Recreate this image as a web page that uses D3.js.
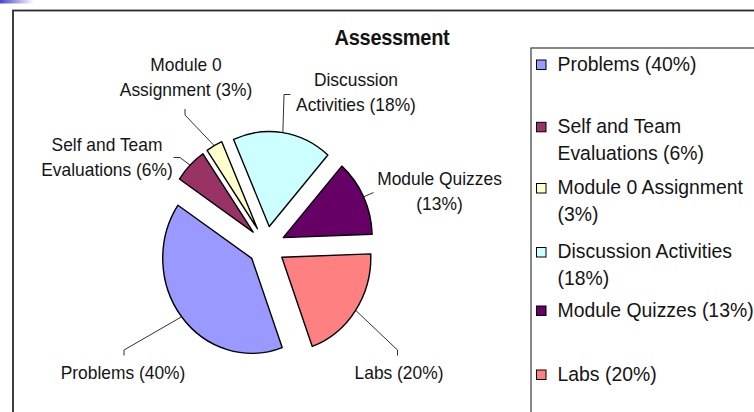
<!DOCTYPE html>
<html>
<head>
<meta charset="utf-8">
<script src="https://cdn.jsdelivr.net/npm/d3@7"></script>
<style>
  html, body { margin: 0; padding: 0; background: #fff; }
  svg { display: block; }
  text { font-family: "Liberation Sans", Arial, sans-serif; fill: #141414; }
</style>
</head>
<body>
<svg id="chart" width="754" height="412"></svg>
<script>
// Assessment weighting, in percent of the final grade
const categories = ["Problems", "Self and Team Evaluations", "Module 0 Assignment",
                    "Discussion Activities", "Module Quizzes", "Labs"];
const shares = [40, 6, 3, 18, 13, 20];
const sliceColors = ["#9999FF", "#993366", "#FFFFCC", "#CCFFFF", "#660066", "#FF8080"];
// how many words go on the first line of each wrapped label (0 = single line)
const pieFirstLineWords = [0, 3, 2, 1, 2, 0];
const legendFirstLineWords = [0, 3, 3, 2, 0, 0];
const chartTitle = "Assessment";

const svg = d3.select("#chart");
const sy = 1.067; // the whole drawing is slightly taller than wide

const labelText = (i) => `${categories[i]} (${shares[i]}%)`;
function wrapLines(text, n) {
  if (!n) return [text];
  const w = text.split(" ");
  return [w.slice(0, n).join(" "), w.slice(n).join(" ")];
}

// corner accent
const grad = svg.append("defs").append("linearGradient").attr("id", "accent");
grad.append("stop").attr("offset", "0%").attr("stop-color", "#4646c8");
grad.append("stop").attr("offset", "100%").attr("stop-color", "#ffffff");
svg.append("rect").attr("x", 0).attr("y", 0).attr("width", 34).attr("height", 3.5)
  .attr("fill", "url(#accent)");

// chart frame
svg.append("rect").attr("x", 13).attr("y", 10.5).attr("width", 800).attr("height", 500)
  .attr("fill", "none").attr("stroke", "#2a2a2a").attr("stroke-width", 1.8);

// title
svg.append("text").attr("transform", `translate(392,45) scale(1,${sy})`)
  .attr("text-anchor", "middle")
  .style("font-weight", "bold").style("font-size", "20px").style("letter-spacing", "-0.3px")
  .text(chartTitle);

// pie geometry
const cx = 266.4, cy = 246.1, R = 89, explode = 18.6;
const deg = Math.PI / 180;
const pie = d3.pie().sort(null).value(d => d)
  .startAngle(160 * deg).endAngle(520 * deg);
const arcs = pie(shares);
const arc = d3.arc().innerRadius(0).outerRadius(R);

const pieG = svg.append("g").attr("transform", `translate(${cx},${cy}) scale(1,${sy})`);
pieG.selectAll("path").data(arcs).join("path")
  .attr("transform", d => {
    const m = (d.startAngle + d.endAngle) / 2;
    return `translate(${Math.sin(m) * explode},${-Math.cos(m) * explode})`;
  })
  .attr("d", arc)
  .attr("fill", (d, i) => sliceColors[i])
  .attr("stroke", "#000")
  .attr("stroke-width", 1.4)
  .attr("stroke-linejoin", "round")
  .attr("vector-effect", "non-scaling-stroke");

// outer midpoint of each exploded slice, in page coordinates
function rimPoint(d) {
  const m = (d.startAngle + d.endAngle) / 2;
  return [cx + Math.sin(m) * (R + explode), cy - Math.cos(m) * (R + explode) * sy];
}

// label anchors (centre x, first baseline) and leader elbows
const labelPos = [
  { x: 123, y: 379, elbow: [[124, 350], [124, 355.5]] },
  { x: 107, y: 150.5, elbow: [[180, 157.5], [173.5, 157.5]] },
  { x: 186, y: 70.5, elbow: [[185, 115], [185, 109]] },
  { x: 356, y: 85.5, elbow: [[284, 94.5], [290.5, 94.5]] },
  { x: 439.5, y: 185, elbow: [[373.5, 192.5]] },
  { x: 399, y: 379, elbow: [[397.5, 350], [397.5, 355.5]] }
];

const line = d3.line();
svg.append("g").selectAll("path").data(arcs).join("path")
  .attr("d", (d, i) => line([rimPoint(d), ...labelPos[i].elbow]))
  .attr("fill", "none").attr("stroke", "#1a1a1a").attr("stroke-width", 0.9);

const pieLabels = svg.append("g").selectAll("text").data(arcs).join("text")
  .attr("text-anchor", "middle")
  .style("font-size", "17.4px")
  .attr("transform", (d, i) => `translate(${labelPos[i].x},${labelPos[i].y}) scale(1,${sy})`);
pieLabels.each(function (d, i) {
  const lines = wrapLines(labelText(i), pieFirstLineWords[i]);
  d3.select(this).selectAll("tspan").data(lines).join("tspan")
    .attr("x", 0)
    .attr("dy", (t, k) => k === 0 ? 0 : 25.5 / sy)
    .text(t => t);
});

// legend
svg.append("rect").attr("x", 531).attr("y", 48).attr("width", 300).attr("height", 400)
  .attr("fill", "#fff").attr("stroke", "#3a3a3a").attr("stroke-width", 1.2);

const legendTop = [60, 122.3, 183.5, 247.5, 306, 370];
const legend = svg.append("g").selectAll("g").data(categories).join("g")
  .attr("transform", (d, i) => `translate(536.5,${legendTop[i]})`);
legend.append("rect").attr("width", 9.5).attr("height", 9.5)
  .attr("fill", (d, i) => sliceColors[i])
  .attr("stroke", "#000").attr("stroke-width", 1);
legend.append("text")
  .attr("transform", `translate(21,10.5) scale(1,${sy})`)
  .style("font-size", "19.4px")
  .each(function (d, i) {
    const lines = wrapLines(labelText(i), legendFirstLineWords[i]);
    d3.select(this).selectAll("tspan").data(lines).join("tspan")
      .attr("x", 0)
      .attr("dy", (t, k) => k === 0 ? 0 : 27 / sy)
      .text(t => t);
  });
</script>
</body>
</html>
